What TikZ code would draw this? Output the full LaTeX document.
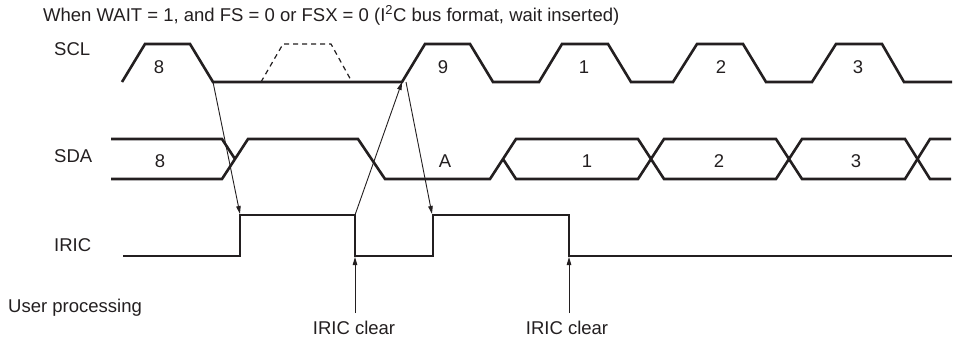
\documentclass[tikz,border=0pt]{standalone}
\usepackage{fontspec}
\setmainfont{Liberation Sans}
\usetikzlibrary{arrows.meta}
\definecolor{ink}{RGB}{35,31,32}
\tikzset{
  sig/.style={draw=ink, line width=2.6pt, line join=miter},
  ghost/.style={draw=ink, line width=1.2pt, dash pattern=on 5pt off 4pt},
  cause/.style={draw=ink, line width=0.9pt, -{Triangle[length=8pt,width=4.5pt]}},
  lbl/.style={text=ink, font=\fontsize{18.5}{22}\selectfont, inner sep=0pt, anchor=base west},
  num/.style={text=ink, font=\fontsize{18.5}{22}\selectfont, inner sep=0pt, anchor=base},
}
\begin{document}
\begin{tikzpicture}[x=1pt,y=-1pt]
\useasboundingbox[fill=white] (0,0) rectangle (972,340);

% title and row labels
\node[lbl] (title) at (43,21) {When WAIT = 1, and FS = 0 or FSX = 0 (I\textsuperscript{2}C bus format, wait inserted)};
\node[lbl] (scl) at (54,55) {SCL};
\node[lbl] (sda) at (54,162) {SDA};
\node[lbl] (iric) at (54,251) {IRIC};
\node[lbl] (user) at (8,312) {User processing};

% SCL
\draw[sig] (122,82)--(145,44)--(190,44)--(213,82)--(402,82)--(425,44)--(470,44)--(493,82)
  --(539,82)--(562,44)--(608,44)--(631,82)--(673,82)--(697,44)--(743,44)--(766,82)
  --(812,82)--(836,44)--(882,44)--(904,82)--(952,82);
\draw[ghost] (261,82)--(283,44)--(331,44)--(352,82);
\node[num] (c8) at (159,73) {8};
\node[num] (c9) at (443,73) {9};
\node[num] (c1) at (584,73) {1};
\node[num] (c2) at (721,73) {2};
\node[num] (c3) at (858,73) {3};

% SDA
\draw[sig] (111,139)--(222,139)--(235,159);
\draw[sig] (111,179)--(222,179)--(248,139)--(358,139)--(385,179)--(490,179)--(503,159)
  --(516,139)--(638,139)--(664,179)--(776,179)--(802,139)--(905,139)--(930,179)--(951,179);
\draw[sig] (503,159)--(516,179)--(638,179)--(664,139)--(776,139)--(802,179)--(905,179)--(930,139)--(951,139);
\node[num] (d8) at (160,167) {8};
\node[num] (dA) at (445,167) {A};
\node[num] (d1) at (587,167) {1};
\node[num] (d2) at (719,167) {2};
\node[num] (d3) at (856,167) {3};

% IRIC
\draw[sig] (123,256)--(240,256)--(240,215)--(355,215)--(355,256)--(433,256)--(433,215)
  --(569,215)--(569,256)--(952,256);

% cause/effect arrows
\coordinate (sclFall8) at (213,82);
\coordinate (iricRise1) at (240,214);
\coordinate (iricFall1) at (355,215);
\coordinate (sclRise9) at (402,82);
\coordinate (sclRise9b) at (406,82);
\coordinate (iricRise2) at (432,214);
\draw[cause] (sclFall8) -- (iricRise1);
\draw[cause] (iricFall1) -- (sclRise9);
\draw[cause] (sclRise9b) -- (iricRise2);

% IRIC clear
\node[num] (clr1) at (354,334) {IRIC clear};
\node[num] (clr2) at (567,334) {IRIC clear};
\coordinate (clr1top) at (355,313);
\coordinate (clr1tip) at (355,257);
\coordinate (clr2top) at (569,313);
\coordinate (clr2tip) at (569,257);
\draw[cause] (clr1top) -- (clr1tip);
\draw[cause] (clr2top) -- (clr2tip);
\end{tikzpicture}
\end{document}
